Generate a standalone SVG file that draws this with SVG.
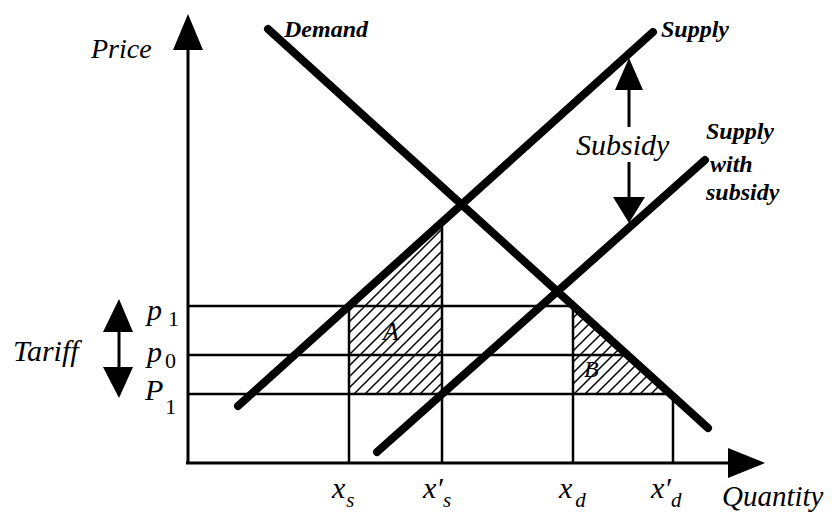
<svg xmlns="http://www.w3.org/2000/svg" width="832" height="515" viewBox="0 0 832 515">
<style>
.t{font-family:"Liberation Serif","Times New Roman",serif;font-style:italic;fill:#000}
.b{font-weight:bold}
.n{font-style:normal}
.ax{stroke:#000;stroke-width:3;fill:none}
.g{stroke:#000;stroke-width:2.5;fill:none}
.c{stroke:#000;stroke-width:8;stroke-linecap:round;fill:none}
.ar{stroke:#000;stroke-width:3;fill:none}
</style>
<defs>
<pattern id="hatch" patternUnits="userSpaceOnUse" width="11" height="11">
<path d="M-1,1 l2,-2 M0,11 l11,-11 M10,12 l2,-2" stroke="#000" stroke-width="1.5"/>
</pattern>
</defs>
<rect width="832" height="515" fill="#fff"/>
<g id="areas">
<polygon points="349,306 442,222 442,394 349,394" fill="url(#hatch)"/>
<polygon points="573,306 573,394 671,394" fill="url(#hatch)"/>
</g>
<g id="grid">
<line class="g" x1="188" y1="306" x2="573" y2="306"/>
<line class="g" x1="188" y1="355" x2="622" y2="355"/>
<line class="g" x1="188" y1="394" x2="671" y2="394"/>
<line class="g" x1="349" y1="306" x2="349" y2="463"/>
<line class="g" x1="442" y1="226" x2="442" y2="463"/>
<line class="g" x1="573" y1="306" x2="573" y2="463"/>
<line class="g" x1="673" y1="394" x2="673" y2="463"/>
</g>
<g id="axes">
<line class="ax" x1="188" y1="463" x2="188" y2="48"/>
<polygon points="188,14 173,50 203,50" fill="#000"/>
<line class="ax" x1="186" y1="463" x2="730" y2="463"/>
<polygon points="765,463 728,448 728,478" fill="#000"/>
</g>
<g id="connectors">
<line class="c" x1="238" y1="406" x2="653" y2="32"/>
<line class="c" x1="268" y1="29" x2="708" y2="428"/>
<line class="c" x1="377" y1="452" x2="705" y2="160"/>
<line class="ar" x1="629" y1="88" x2="629" y2="127"/>
<polygon points="629,58 615,90 643,90" fill="#000"/>
<line class="ar" x1="629" y1="162" x2="629" y2="199"/>
<polygon points="629,223 613,197 645,197" fill="#000"/>
<line class="ar" x1="119" y1="330" x2="119" y2="369"/>
<polygon points="119,299 103,332 133,332" fill="#000"/>
<polygon points="119,398 103,367 133,367" fill="#000"/>
</g>
<g id="labels">
<text class="t" x="91" y="58" font-size="28">Price</text>
<text class="t b" x="284" y="37" font-size="24">Demand</text>
<text class="t b" x="661" y="37" font-size="24">Supply</text>
<text class="t" x="576" y="155" font-size="30">Subsidy</text>
<text class="t b" x="706" y="139" font-size="24">Supply</text>
<text class="t b" x="710" y="172" font-size="24">with</text>
<text class="t b" x="706" y="200" font-size="24">subsidy</text>
<text class="t" x="13" y="361" font-size="30">Tariff</text>
<text class="t" x="147" y="320" font-size="30">p<tspan class="n" dx="6" dy="6" font-size="22">1</tspan></text>
<text class="t" x="147" y="362" font-size="30">p<tspan class="n" dx="3" dy="6" font-size="22">0</tspan></text>
<text class="t" x="145" y="400" font-size="30">P<tspan class="n" dx="2" dy="14" font-size="22">1</tspan></text>
<text class="t" x="383" y="340" font-size="26">A</text>
<text class="t" x="584" y="377" font-size="24">B</text>
<text class="t" x="332" y="498" font-size="30">x<tspan dx="1" dy="9" font-size="21">s</tspan></text>
<text class="t" x="423" y="498" font-size="30">x′<tspan dy="9" font-size="21">s</tspan></text>
<text class="t" x="559" y="498" font-size="30">x<tspan dx="3" dy="9" font-size="21">d</tspan></text>
<text class="t" x="651" y="498" font-size="30">x′<tspan dy="9" font-size="21">d</tspan></text>
<text class="t" x="722" y="506" font-size="29">Quantity</text>
</g>
</svg>
